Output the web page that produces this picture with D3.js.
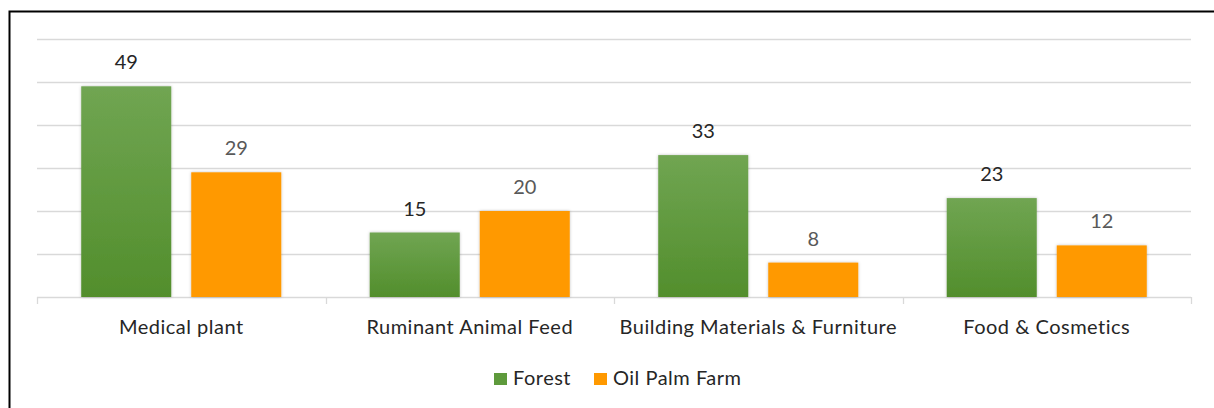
<!DOCTYPE html>
<html><head><meta charset="utf-8">
<script src="https://cdn.jsdelivr.net/npm/d3@7"></script>
<style>body{margin:0;background:#fff;}svg{display:block;}</style>
</head><body>
<script>
const categories = ["Medical plant", "Ruminant Animal Feed", "Building Materials & Furniture", "Food & Cosmetics"];
const seriesNames = ["Forest", "Oil Palm Farm"];
const forest = [49, 15, 33, 23];
const oilPalm = [29, 20, 8, 12];
const yTicks = [0, 10, 20, 30, 40, 50, 60];

(function () {
const W = 1214, H = 408;
const svg = d3.select("body").append("svg").attr("width", W).attr("height", H);
const defs = svg.append("defs");
const grad = defs.append("linearGradient").attr("id", "gGreen").attr("x1", 0).attr("y1", 0).attr("x2", 0).attr("y2", 1);
grad.append("stop").attr("offset", "0%").attr("stop-color", "#70a552");
grad.append("stop").attr("offset", "100%").attr("stop-color", "#528e2c");
const flt = defs.append("filter").attr("id", "shadow").attr("x", "-10%").attr("y", "-10%").attr("width", "120%").attr("height", "120%");
flt.append("feDropShadow").attr("dx", 0).attr("dy", 0).attr("stdDeviation", 1.5).attr("flood-color", "#000").attr("flood-opacity", 0.25);

// outer border (cropped on right/bottom)
svg.append("path").attr("d", `M9.5,${H}V11.5H${W}`).attr("fill", "none").attr("stroke", "#000").attr("stroke-width", 2);

const pLeft = 37, pRight = 1191, pTop = 39, pBottom = 297;
const x0 = d3.scaleBand().domain(categories).range([pLeft, pRight]).paddingInner(0).paddingOuter(0);
const x1 = d3.scaleBand().domain(seriesNames).range([0, x0.bandwidth()]).paddingInner(0.1818).paddingOuter(0.402);
const y = d3.scaleLinear().domain([0, 60]).range([pBottom, pTop]);

const font = "Lato, 'Open Sans', sans-serif";

// gridlines
svg.append("g").selectAll("line").data(yTicks.filter(d => d > 0)).join("line")
  .attr("x1", pLeft).attr("x2", pRight)
  .attr("y1", d => Math.round(y(d)) + 0.5).attr("y2", d => Math.round(y(d)) + 0.5)
  .attr("stroke", "#d9d9d9").attr("stroke-width", 1.3);

// x axis
const xAxis = d3.axisBottom(x0).tickSize(0).tickPadding(22);
const gx = svg.append("g").attr("transform", `translate(0,${pBottom + 0.5})`).call(xAxis);
gx.select(".domain").attr("stroke", "#d9d9d9").attr("stroke-width", 1.3).attr("d", `M${pLeft},0H${pRight}`);
gx.selectAll("text").attr("font-family", font).attr("font-size", 20).attr("letter-spacing", "0.5px").attr("fill", "#262626");
// category boundary ticks
const bounds = categories.map(c => x0(c)).concat([pRight]);
svg.append("g").selectAll("line").data(bounds).join("line")
  .attr("x1", d => Math.round(d) + 0.5).attr("x2", d => Math.round(d) + 0.5)
  .attr("y1", pBottom).attr("y2", pBottom + 7).attr("stroke", "#d9d9d9").attr("stroke-width", 1.3);

const data = categories.map((c, i) => ({ c, vals: [{ s: "Forest", v: forest[i] }, { s: "Oil Palm Farm", v: oilPalm[i] }] }));
const fills = { "Forest": "url(#gGreen)", "Oil Palm Farm": "#ff9900" };
const labelCol = { "Forest": "#262626", "Oil Palm Farm": "#595959" };

const groups = svg.append("g").selectAll("g").data(data).join("g")
  .attr("transform", d => `translate(${x0(d.c)},0)`);
groups.selectAll("rect").data(d => d.vals).join("rect")
  .attr("x", d => x1(d.s)).attr("width", x1.bandwidth())
  .attr("y", d => y(d.v)).attr("height", d => pBottom - y(d.v))
  .attr("fill", d => fills[d.s]).attr("filter", "url(#shadow)");
groups.selectAll("text").data(d => d.vals).join("text")
  .attr("x", d => x1(d.s) + x1.bandwidth() / 2).attr("y", d => y(d.v) - 17)
  .attr("text-anchor", "middle").attr("font-family", font).attr("font-size", 20)
  .attr("fill", d => labelCol[d.s]).text(d => d.v);

// legend
const legend = svg.append("g").attr("transform", "translate(494,373)");
const legItems = [{ s: "Forest", x: 0 }, { s: "Oil Palm Farm", x: 100 }];
legItems.forEach(it => {
  const g = legend.append("g").attr("transform", `translate(${it.x},0)`);
  g.append("rect").attr("width", 13).attr("height", 12).attr("fill", it.s === "Forest" ? "#5e9a3c" : "#ff9900");
  g.append("text").attr("x", 19).attr("y", 12).attr("font-family", font).attr("font-size", 20)
    .attr("letter-spacing", "0.5px").attr("fill", "#262626").text(it.s);
});
})();
</script>
</body></html>
